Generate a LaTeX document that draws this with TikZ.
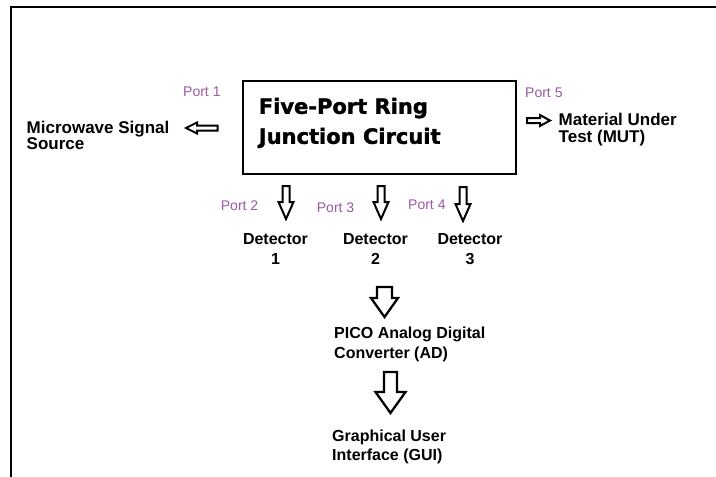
\documentclass[tikz,border=0pt]{standalone}
\usepackage{fontspec}
\setmainfont{Liberation Sans}
\newfontfamily\titlefont{DejaVu Sans}[FakeBold=1.6]
\usetikzlibrary{calc}

\definecolor{portcol}{RGB}{155,89,166}

% hollow block arrow from tail #1 to tip #2;
% #3 shaft half-width, #4 head half-width, #5 head length, #6 line width
\newcommand\blockarrow[6]{%
  \path ($(#2)!#5!(#1)$) coordinate (hb);
  \draw[arrowoutline, line width=#6]
    ($(#1)!#3!90:(#2)$) -- ($(hb)!#3!90:(#2)$) -- ($(hb)!#4!90:(#2)$) --
    (#2) --
    ($(hb)!#4!-90:(#2)$) -- ($(hb)!#3!-90:(#2)$) -- ($(#1)!#3!-90:(#2)$) -- cycle;
}

\begin{document}
\begin{tikzpicture}[x=1pt, y=1pt,
  arrowoutline/.style={draw=black, line join=miter, fill=white},
  frameline/.style={line width=2.5pt, black},
  ringbox/.style={draw=black, line width=2.7pt, minimum width=273pt, minimum height=93pt, inner sep=0pt},
  ringtext/.style={font=\titlefont\bfseries\fontsize{21}{30}\selectfont, align=left, inner sep=0pt},
  sidelabel/.style={font=\bfseries\fontsize{17}{16.5}\selectfont, align=left, inner sep=0pt, anchor=north west},
  lowlabel/.style={font=\bfseries\fontsize{16}{20}\selectfont, inner sep=0pt},
  portlabel/.style={font=\fontsize{14}{16}\selectfont, text=portcol, inner sep=0pt, anchor=base west}
]
\useasboundingbox (0,0) rectangle (716,-477);
\fill[white] (0,0) rectangle (716,-477);

% page frame (top and left edges)
\draw[frameline] (11,-477) -- (11,-7) -- (716,-7);

% central junction block
\node[ringbox] (ring) at (379.5,-127.5) {};
\node[ringtext, anchor=north west] (ringtxt) at ($(ring.north west)+(17,-18)$) {Five-Port Ring\\Junction Circuit};

% side and bottom labels
\node[sidelabel] (source) at (26.5,-120.5) {Microwave Signal\\Source};
\node[sidelabel] (mut) at (558.5,-113) {Material Under\\Test (MUT)};
\node[lowlabel, align=center, anchor=north] (det1) at (275.5,-233.5) {Detector\\1};
\node[lowlabel, align=center, anchor=north] (det2) at (375.5,-233.5) {Detector\\2};
\node[lowlabel, align=center, anchor=north] (det3) at (470,-233.5) {Detector\\3};
\node[lowlabel, align=left, anchor=north west] (adc) at (334,-326.5) {PICO Analog Digital\\Converter (AD)};
\node[lowlabel, align=left, anchor=north west, font=\bfseries\fontsize{16}{19}\selectfont] (gui) at (332,-429.5) {Graphical User\\Interface (GUI)};

% port names
\node[portlabel] (p1) at (183,-96) {Port 1};
\node[portlabel] (p5) at (525,-97) {Port 5};
\node[portlabel] (p2) at (220.7,-210.7) {Port 2};
\node[portlabel] (p3) at (316.7,-212) {Port 3};
\node[portlabel] (p4) at (408,-209) {Port 4};

% arrow end points
\coordinate (a1t) at (217.5,-128);   \coordinate (a1h) at (186,-128);
\coordinate (a5t) at (527,-120.5);   \coordinate (a5h) at (550,-120.5);
\coordinate (a2t) at (286,-186);     \coordinate (a2h) at (286,-219);
\coordinate (a3t) at (381,-186);     \coordinate (a3h) at (381,-219);
\coordinate (a4t) at (463,-187);     \coordinate (a4h) at (463,-221);
\coordinate (b1t) at (384.5,-287);   \coordinate (b1h) at (384.5,-317);
\coordinate (b2t) at (390.5,-372);   \coordinate (b2h) at (390.5,-413);

% hollow arrows
\blockarrow{a1t}{a1h}{2.5pt}{5.5pt}{11pt}{2pt}
\blockarrow{a5t}{a5h}{2.5pt}{5.5pt}{10pt}{2pt}
\blockarrow{a2t}{a2h}{3.5pt}{7.5pt}{17pt}{2pt}
\blockarrow{a3t}{a3h}{3.5pt}{7.5pt}{17pt}{2pt}
\blockarrow{a4t}{a4h}{3.5pt}{7.5pt}{17pt}{2pt}
\blockarrow{b1t}{b1h}{7.5pt}{13.5pt}{19pt}{2.3pt}
\blockarrow{b2t}{b2h}{6.5pt}{15pt}{21pt}{2.3pt}
\end{tikzpicture}
\end{document}
